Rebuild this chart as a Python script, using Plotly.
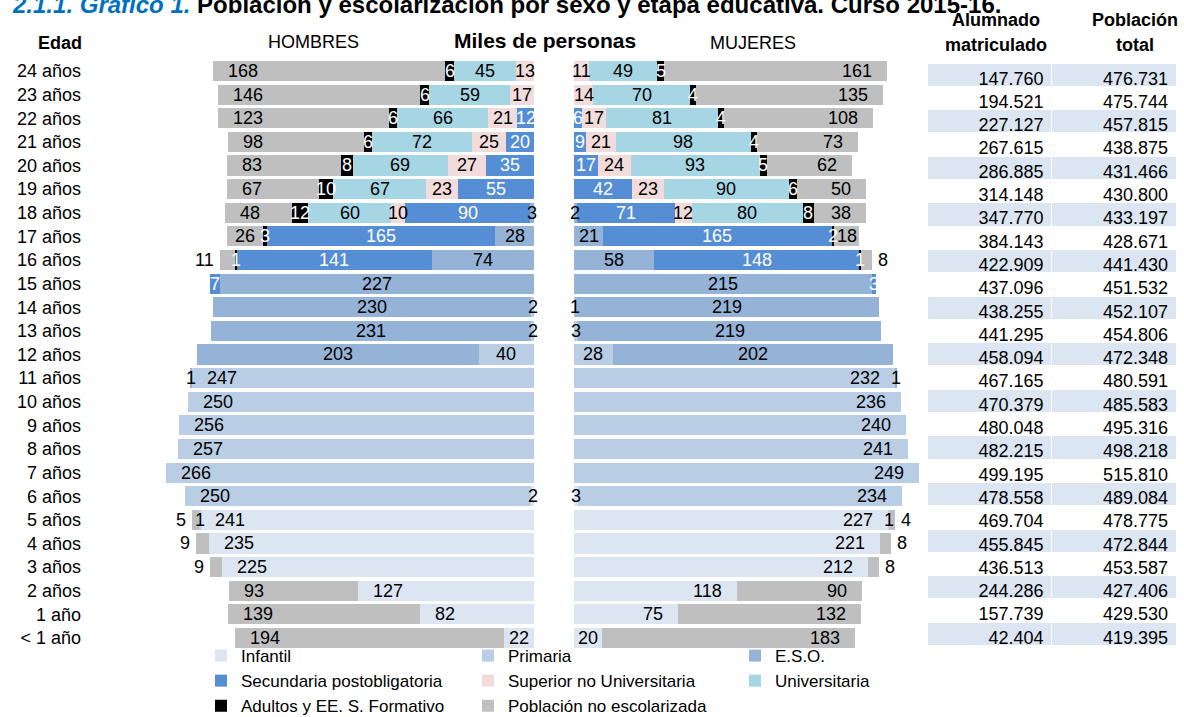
import plotly.graph_objects as go

FONT = "Liberation Sans, Arial, sans-serif"
W, H = 1184, 717

ages = ["24 años", "23 años", "22 años", "21 años", "20 años", "19 años", "18 años",
        "17 años", "16 años", "15 años", "14 años", "13 años", "12 años", "11 años",
        "10 años", "9 años", "8 años", "7 años", "6 años", "5 años", "4 años",
        "3 años", "2 años", "1 año", "< 1 año"]

categories = ["Infantil", "Primaria", "E.S.O.", "Secundaria postobligatoria",
              "Superior no Universitaria", "Universitaria",
              "Adultos y EE. S. Formativo", "Población no escolarizada"]
colors = ["#DCE6F2", "#B9CDE5", "#95B3D7", "#558ED5", "#F2DCDB", "#A6D6E4",
          "#000000", "#BFBFBF"]
# legend column of each category (3 columns, read row by row in the reference)
legend_column = ["col1", "col2", "col3", "col1", "col2", "col3", "col1", "col2"]

# Miles de personas, ages from 24 años (top) to < 1 año (bottom)
men_infantil = [0, 0, 0, 0, 0, 0, 0, 0, 0, 0, 0, 0, 0, 0, 0, 0, 0, 0, 2, 241, 235, 225, 127, 82, 22]
men_primaria = [0, 0, 0, 0, 0, 0, 0, 0, 0, 0, 2, 2, 40, 247, 250, 256, 257, 266, 250, 1, 0, 0, 0, 0, 0]
men_eso = [0, 0, 0, 0, 0, 0, 3, 28, 74, 227, 230, 231, 203, 1, 0, 0, 0, 0, 0, 0, 0, 0, 0, 0, 0]
men_secundaria = [0, 0, 12, 20, 35, 55, 90, 165, 141, 7, 0, 0, 0, 0, 0, 0, 0, 0, 0, 0, 0, 0, 0, 0, 0]
men_superior = [13, 17, 21, 25, 27, 23, 10, 0, 0, 0, 0, 0, 0, 0, 0, 0, 0, 0, 0, 0, 0, 0, 0, 0, 0]
men_universitaria = [45, 59, 66, 72, 69, 67, 60, 0, 0, 0, 0, 0, 0, 0, 0, 0, 0, 0, 0, 0, 0, 0, 0, 0, 0]
men_adultos = [6, 6, 6, 6, 8, 10, 12, 3, 1, 0, 0, 0, 0, 0, 0, 0, 0, 0, 0, 0, 0, 0, 0, 0, 0]
men_no_escolarizada = [168, 146, 123, 98, 83, 67, 48, 26, 11, 0, 0, 0, 0, 0, 0, 0, 0, 0, 0, 5, 9, 9, 93, 139, 194]

women_infantil = [0, 0, 0, 0, 0, 0, 0, 0, 0, 0, 0, 0, 0, 0, 0, 0, 0, 0, 3, 227, 221, 212, 118, 75, 20]
women_primaria = [0, 0, 0, 0, 0, 0, 0, 0, 0, 0, 1, 3, 28, 232, 236, 240, 241, 249, 234, 1, 0, 0, 0, 0, 0]
women_eso = [0, 0, 0, 0, 0, 0, 2, 21, 58, 215, 219, 219, 202, 1, 0, 0, 0, 0, 0, 0, 0, 0, 0, 0, 0]
women_secundaria = [0, 0, 6, 9, 17, 42, 71, 165, 148, 3, 0, 0, 0, 0, 0, 0, 0, 0, 0, 0, 0, 0, 0, 0, 0]
women_superior = [11, 14, 17, 21, 24, 23, 12, 0, 0, 0, 0, 0, 0, 0, 0, 0, 0, 0, 0, 0, 0, 0, 0, 0, 0]
women_universitaria = [49, 70, 81, 98, 93, 90, 80, 0, 0, 0, 0, 0, 0, 0, 0, 0, 0, 0, 0, 0, 0, 0, 0, 0, 0]
women_adultos = [5, 4, 4, 4, 5, 6, 8, 2, 1, 0, 0, 0, 0, 0, 0, 0, 0, 0, 0, 0, 0, 0, 0, 0, 0]
women_no_escolarizada = [161, 135, 108, 73, 62, 50, 38, 18, 8, 0, 0, 0, 0, 0, 0, 0, 0, 0, 0, 4, 8, 8, 90, 132, 183]

alumnado_matriculado = [147760, 194521, 227127, 267615, 286885, 314148, 347770, 384143,
                        422909, 437096, 438255, 441295, 458094, 467165, 470379, 480048,
                        482215, 499195, 478558, 469704, 455845, 436513, 244286, 157739, 42404]
poblacion_total = [476731, 475744, 457815, 438875, 431466, 430800, 433197, 428671,
                   441430, 451532, 452107, 454806, 472348, 480591, 485583, 495316,
                   498218, 515810, 489084, 478775, 472844, 453587, 427406, 429530, 419395]

men = [men_infantil, men_primaria, men_eso, men_secundaria, men_superior,
       men_universitaria, men_adultos, men_no_escolarizada]
women = [women_infantil, women_primaria, women_eso, women_secundaria, women_superior,
         women_universitaria, women_adultos, women_no_escolarizada]

n = len(ages)
ypos = list(range(n - 1, -1, -1))

# layout geometry (pixels)
PX = 1.385
MEN_X0, MEN_X1 = 150, 534
WOM_X0, WOM_X1 = 574, 924

fig = go.Figure()
for c, name in enumerate(categories):
    fig.add_trace(go.Bar(y=ypos, x=men[c], orientation="h", name=name,
                         marker=dict(color=colors[c], line=dict(width=0)),
                         xaxis="x", yaxis="y", legendgroup=legend_column[c],
                         showlegend=True, hoverinfo="x+name"))
for c, name in enumerate(categories):
    fig.add_trace(go.Bar(y=ypos, x=women[c], orientation="h", name=name,
                         marker=dict(color=colors[c], line=dict(width=0)),
                         xaxis="x2", yaxis="y", legendgroup=legend_column[c],
                         showlegend=False, hoverinfo="x+name"))


def label_mode(c, v):
    if c in (0, 1):
        return "end" if v >= 50 else "center"
    if c == 7:
        if v >= 30:
            return "end"
        return "center" if v >= 15 else "out"
    return "center"


annotations = []
for data, xref, side in ((men, "x", -1), (women, "x2", 1)):
    for i in range(n):
        base = 0
        for c in range(len(categories)):
            v = data[c][i]
            if v <= 0:
                continue
            start, end = base, base + v
            base = end
            mode = label_mode(c, v)
            col = "white" if c in (3, 6) else "black"
            if mode == "center":
                x, anchor, shift = (start + end) / 2, "center", 0
            elif mode == "end":
                x = end
                anchor = "left" if side < 0 else "right"
                shift = 13 if side < 0 else -13
            else:
                x = end
                anchor = "right" if side < 0 else "left"
                shift = -4 if side < 0 else 4
            annotations.append(dict(x=x, y=ypos[i], xref=xref, yref="y", text=str(v),
                                    showarrow=False, xanchor=anchor, xshift=shift,
                                    font=dict(size=18, color=col, family=FONT)))


def px_x(p):
    return p / W


def px_y(p):
    return 1 - p / H


def header(x, y, text, size=18):
    return dict(x=px_x(x), y=px_y(y), xref="paper", yref="paper", text=text,
                showarrow=False, xanchor="center", yanchor="middle",
                font=dict(size=size, color="black", family=FONT))


annotations += [
    dict(x=px_x(10), y=px_y(4.7), xref="paper", yref="paper", xanchor="left", yanchor="middle",
         text="<b><span style='color:#0070C0'><i>2.1.1. Gráfico 1.</i></span> "
              "Población y escolarización por sexo y etapa educativa. Curso 2015-16.</b>",
         showarrow=False, font=dict(size=24, color="black", family=FONT)),
    header(60, 43, "<b>Edad</b>"),
    header(313, 42, "HOMBRES"),
    header(545, 41, "<b>Miles de personas</b>", 21),
    header(753, 43, "MUJERES"),
    header(996, 20, "<b>Alumnado</b>"),
    header(996, 45, "<b>matriculado</b>"),
    header(1135, 20, "<b>Población</b>"),
    header(1135, 45, "<b>total</b>"),
]


def fmt(v):
    return f"{v:,}".replace(",", ".")


row_fill = ["#DCE6F2" if i % 2 == 0 else "white" for i in range(n)]
fig.add_trace(go.Table(
    domain=dict(x=[px_x(927), px_x(1176)], y=[0, 1]),
    columnwidth=[1, 1],
    header=dict(values=["", ""], fill_color="white", line_color="white", height=63),
    cells=dict(values=[[fmt(v) for v in alumnado_matriculado], [fmt(v) for v in poblacion_total]],
               fill_color=[row_fill, row_fill], line_color="white", align="right",
               height=23.3, font=dict(size=18, color="black", family=FONT)),
))

row_px = 23.625
y_top_px = 71 - row_px / 2
y_bot_px = 638 + row_px / 2

fig.update_layout(
    width=W, height=H, margin=dict(l=0, r=0, t=0, b=0, autoexpand=False),
    paper_bgcolor="white", plot_bgcolor="white",
    barmode="stack", bargap=0.15,
    font=dict(family=FONT, size=18, color="black"),
    xaxis=dict(domain=[px_x(MEN_X0), px_x(MEN_X1)],
               range=[(MEN_X1 - MEN_X0) / PX, 0], visible=False, fixedrange=True),
    xaxis2=dict(domain=[px_x(WOM_X0), px_x(WOM_X1)],
                range=[0, (WOM_X1 - WOM_X0) / PX], visible=False, fixedrange=True),
    yaxis=dict(domain=[px_y(y_bot_px), px_y(y_top_px)], range=[-0.5, n - 0.5],
               anchor="free", position=px_x(81), tickmode="array", tickvals=ypos,
               ticktext=ages, showgrid=False, zeroline=False, showline=False, ticks="",
               tickfont=dict(size=18, color="black", family=FONT), fixedrange=True),
    legend=dict(orientation="h", x=px_x(201), y=px_y(638), xanchor="left", yanchor="top",
                entrywidth=222, entrywidthmode="pixels", traceorder="grouped",
                tracegroupgap=0,
                font=dict(size=17, color="black", family=FONT), bgcolor="rgba(0,0,0,0)"),
    annotations=annotations,
    showlegend=True,
)

fig.write_html("out.html", config={"displayModeBar": False},
               post_script="document.body.style.margin='0';")
